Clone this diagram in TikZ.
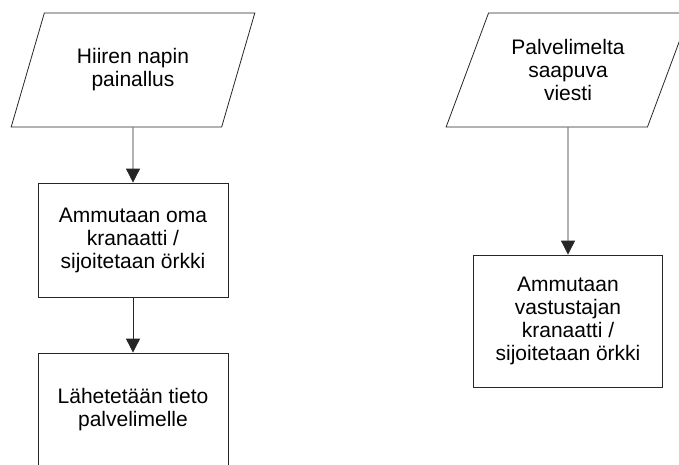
\documentclass[tikz,border=0pt]{standalone}
\usepackage{fontspec}
\setmainfont{Liberation Sans}
\usetikzlibrary{shapes.geometric,arrows.meta}
\begin{document}
\begin{tikzpicture}[x=1pt,y=-1pt,
    every node/.style={font=\fontsize{21}{23}\selectfont,align=center,line width=0.8pt,draw=black!85},
    io/.style={trapezium,trapezium left angle=63.8,trapezium right angle=116.2,
      trapezium stretches=true,minimum width=244pt,minimum height=114pt,inner sep=0pt},
    work/.style={rectangle,inner sep=0pt},
    flow/.style={-{Triangle[width=14pt,length=14pt]},line width=0.8pt,draw=black!85}]
  \useasboundingbox (0,0) rectangle (679,464);
  \node[io] (click) at (133,70) {Hiiren napin\\painallus};
  \node[work,minimum width=190pt,minimum height=114pt] (shoot) at (133,240)
    {Ammutaan oma\\kranaatti /\\sijoitetaan örkki};
  \node[work,minimum width=190pt,minimum height=114pt] (send) at (133,410)
    {Lähetetään tieto\\palvelimelle};
  \node[io] (msg) at (568,70) {Palvelimelta\\saapuva\\viesti};
  \node[work,minimum width=189pt,minimum height=132pt] (enemy) at (568,321)
    {Ammutaan\\vastustajan\\kranaatti /\\sijoitetaan örkki};
  \draw[flow] (click) -- (shoot);
  \draw[flow] (shoot) -- (send);
  \draw[flow] (msg) -- (enemy);
\end{tikzpicture}
\end{document}
